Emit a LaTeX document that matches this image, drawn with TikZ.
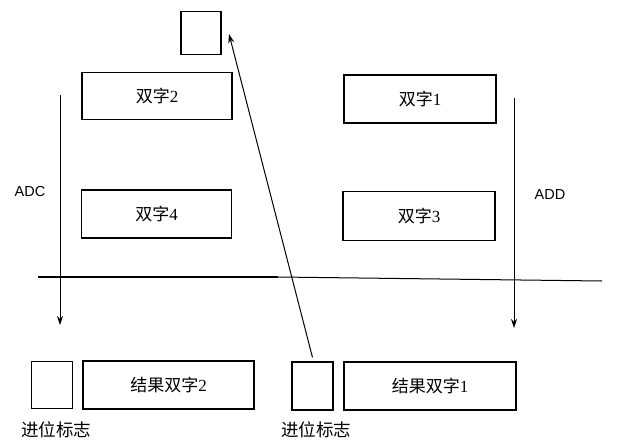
\documentclass[tikz,border=0pt]{standalone}
\usepackage{fontspec}
\setmainfont{Liberation Serif}
\newfontfamily\cjk{Noto Sans CJK SC}
\newfontfamily\lsans{Liberation Sans}
\usetikzlibrary{arrows.meta}
\begin{document}
\begin{tikzpicture}[x=1pt,y=-1pt,
  wordbox/.style={draw,line width=1.1pt,inner sep=0pt,font=\fontsize{17}{17}\selectfont},
  flagbox/.style={draw,line width=1.1pt,inner sep=0pt,minimum width=41pt,minimum height=47pt},
  lbl/.style={inner sep=0pt,font=\fontsize{17.5}{17.5}\selectfont\cjk},
  oplbl/.style={inner sep=0pt,font=\fontsize{14.5}{14.5}\selectfont\lsans},
  arr/.style={line width=1pt,-{Stealth[length=9pt,width=6pt]}}]
\useasboundingbox (0,0) rectangle (618,444);
% top flag box
\node[flagbox,minimum width=40pt,minimum height=43pt] (ftop) at (201,33) {};
% operand boxes
\node[wordbox,minimum width=150pt,minimum height=47pt] (w2) at (157,96) {{\cjk 双字}2};
\node[wordbox,minimum width=150pt,minimum height=48pt] (w4) at (156.5,214) {{\cjk 双字}4};
\node[wordbox,minimum width=152pt,minimum height=48pt] (w1) at (420,99) {{\cjk 双字}1};
\node[wordbox,minimum width=152pt,minimum height=49pt] (w3) at (419,216) {{\cjk 双字}3};
% result boxes
\node[flagbox] (cf2) at (52,385) {};
\node[wordbox,minimum width=171pt,minimum height=48pt] (r2) at (168.5,385) {{\cjk 结果双字}2};
\node[flagbox,minimum height=48pt] (cf1) at (312.5,386) {};
\node[wordbox,minimum width=172pt,minimum height=48pt] (r1) at (430,386) {{\cjk 结果双字}1};
% flag labels
\node[lbl] (l2) at (56,430) {进位标志};
\node[lbl] (l1) at (316,430) {进位标志};
% op labels
\node[oplbl] (adc) at (30,192) {ADC};
\node[oplbl] (add) at (550,195) {ADD};
% vertical arrows
\coordinate (adcs) at (60,95);
\coordinate (adce) at (60,325);
\coordinate (adds) at (514,98);
\coordinate (adde) at (514,328);
\draw[arr] (adcs) -- (adce);
\draw[arr] (adds) -- (adde);
% horizontal line
\coordinate (hl1) at (38,277);
\coordinate (hl2) at (278,277);
\coordinate (hl3) at (602,281);
\draw[line width=2pt] (hl1) -- (hl2);
\draw[line width=1pt] (hl2) -- (hl3);
% diagonal carry arrow
\coordinate (ctop) at (229,34);
\draw[arr] (cf1.north) ++(0,-4) coordinate (cbot) -- (ctop);
\end{tikzpicture}
\end{document}
